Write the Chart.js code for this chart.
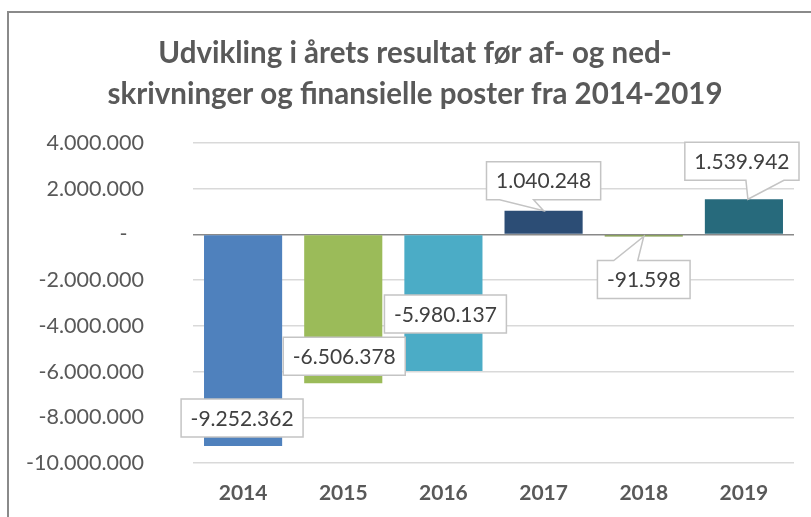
<!DOCTYPE html>
<html>
<head>
<meta charset="utf-8">
<script src="https://cdn.jsdelivr.net/npm/chart.js@4/dist/chart.umd.min.js"></script>
<style>
  html, body { margin: 0; padding: 0; background: #fff; overflow: hidden; }
  #wrap { position: relative; width: 830px; height: 517px; }
  #frame { position: absolute; left: 7px; top: 11px; width: 900px; height: 600px; border: 2px solid #8a8a8a; }
  canvas { position: absolute; left: 0; top: 0; }
</style>
</head>
<body>
<div id="wrap">
  <div id="frame"></div>
  <canvas id="grafico" width="830" height="517"></canvas>
</div>
<script>
const aar = ['2014', '2015', '2016', '2017', '2018', '2019'];
const resultat = [-9252362, -6506378, -5980137, 1040248, -91598, 1539942];
const farver = ['#4f81bd', '#9bbb59', '#4bacc6', '#2c4d75', '#77933c', '#276a7c'];
const yVaerdier = [4000000, 2000000, 0, -2000000, -4000000, -6000000, -8000000, -10000000];
const yEtiketter = ['4.000.000', '2.000.000', '-   ', '-2.000.000', '-4.000.000', '-6.000.000', '-8.000.000', '-10.000.000'];

// placering af callouts i forhold til søjlens ende (px)
const labelDx = [-1, 1, 2, 0, 0, -2];
const labelDy = [-28, -27, -57, -30, 43, -38];
const pilSide = [0, 0, 0, -1, -1, 1];

function formatTal(v) {
  const s = Math.abs(v).toString().replace(/\B(?=(\d{3})+(?!\d))/g, '.');
  return (v < 0 ? '-' : '') + s;
}

const callouts = {
  id: 'callouts',
  afterDatasetsDraw(chart) {
    const ctx = chart.ctx;
    const meta = chart.getDatasetMeta(0);
    ctx.save();
    ctx.font = '21px Lato';
    ctx.textAlign = 'center';
    ctx.textBaseline = 'middle';
    meta.data.forEach((bar, i) => {
      const txt = formatTal(resultat[i]);
      const w = ctx.measureText(txt).width + 19;
      const h = 38;
      const cx = bar.x + labelDx[i];
      const cy = bar.y + labelDy[i];
      const l = cx - w / 2, r = cx + w / 2, t = cy - h / 2, b = cy + h / 2;
      ctx.beginPath();
      if (pilSide[i] !== 0 && bar.y > b) {
        const b1 = pilSide[i] < 0 ? cx - 44 : cx + 4;
        const b2 = pilSide[i] < 0 ? cx - 10 : cx + 42;
        ctx.moveTo(l, t); ctx.lineTo(r, t); ctx.lineTo(r, b);
        ctx.lineTo(b2, b); ctx.lineTo(bar.x + (pilSide[i] > 0 ? 4 : 0), bar.y); ctx.lineTo(b1, b);
        ctx.lineTo(l, b); ctx.closePath();
      } else if (pilSide[i] !== 0 && bar.y < t) {
        const b1 = cx - 30, b2 = cx - 6;
        ctx.moveTo(l, t); ctx.lineTo(b1, t); ctx.lineTo(bar.x, bar.y); ctx.lineTo(b2, t);
        ctx.lineTo(r, t); ctx.lineTo(r, b); ctx.lineTo(l, b); ctx.closePath();
      } else {
        ctx.rect(l, t, w, h);
      }
      ctx.fillStyle = '#ffffff';
      ctx.fill();
      ctx.lineWidth = 1.5;
      ctx.strokeStyle = '#c4c4c4';
      ctx.stroke();
      ctx.fillStyle = '#404040';
      ctx.fillText(txt, cx, cy + 1);
    });
    ctx.restore();
  }
};

new Chart(document.getElementById('grafico'), {
  type: 'bar',
  data: {
    labels: aar,
    datasets: [{
      data: resultat,
      backgroundColor: farver,
      barPercentage: 0.78,
      categoryPercentage: 1
    }]
  },
  options: {
    responsive: false,
    animation: false,
    layout: { padding: { left: 0, right: 0, top: 0, bottom: 10 } },
    plugins: {
      legend: { display: false },
      tooltip: { enabled: false },
      title: {
        display: true,
        text: ['Udvikling i årets resultat før af- og ned-', 'skrivninger og finansielle poster fra 2014-2019'],
        color: '#595959',
        font: { family: 'Lato', size: 29.5, weight: 'bold', lineHeight: 1.39 },
        padding: { top: 32.5, bottom: 28.5 }
      }
    },
    scales: {
      x: {
        afterFit(axis) { axis.height = 44; },
        grid: { display: false, drawTicks: false },
        border: { display: false },
        ticks: {
          color: '#595959',
          font: { family: 'Lato', size: 21, weight: 'bold' },
          padding: 18
        }
      },
      y: {
        min: -10000000,
        max: 4000000,
        afterFit(axis) {
          axis.width = 193;
          axis.paddingTop = 0;
          axis.paddingBottom = 0;
        },
        afterBuildTicks(axis) { axis.ticks = yVaerdier.map(v => ({ value: v })); },
        border: { display: false },
        grid: {
          drawTicks: false,
          color: c => c.tick && c.tick.value === 0 ? '#898989' : '#d9d9d9',
          lineWidth: 1.5
        },
        ticks: {
          color: '#595959',
          font: { family: 'Lato', size: 21.5 },
          padding: 49,
          callback: v => yEtiketter[yVaerdier.indexOf(v)]
        }
      },
      hoejre: {
        position: 'right',
        afterFit(axis) { axis.width = 36; },
        grid: { display: false, drawTicks: false },
        border: { display: false },
        ticks: { display: false }
      }
    }
  },
  plugins: [callouts]
});
</script>
</body>
</html>
